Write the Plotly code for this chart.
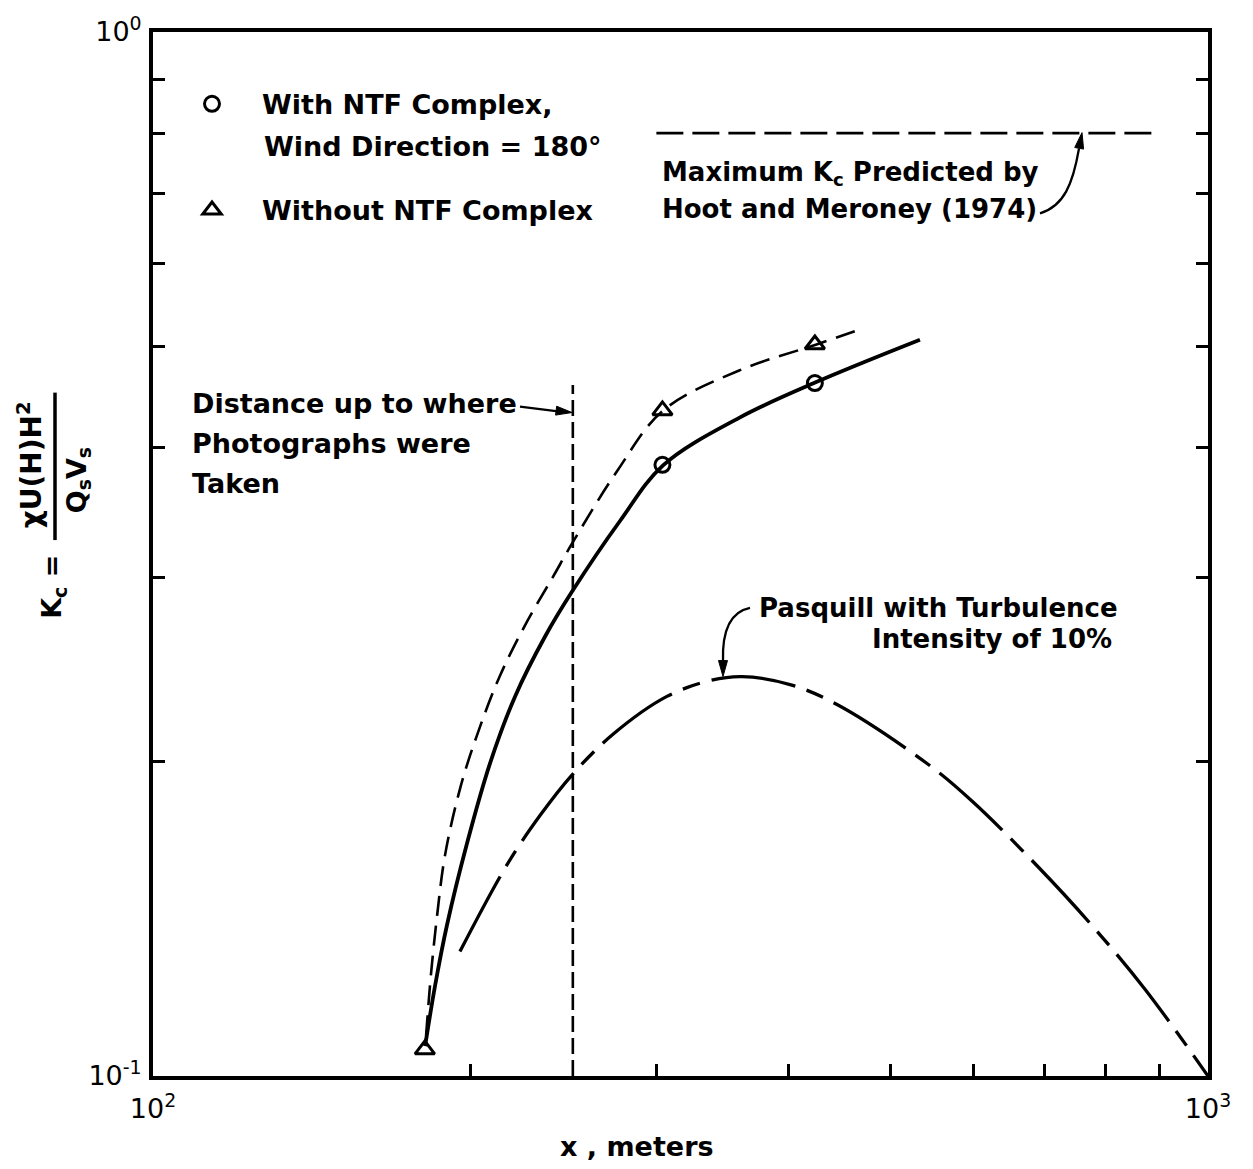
import math
import plotly.graph_objects as go

# ---- data -------------------------------------------------------------
# measured concentration coefficients
with_ntf_x = [304, 424]
with_ntf_y = [0.385, 0.461]
without_ntf_x = [181, 304, 424]
without_ntf_y = [0.106, 0.434, 0.502]

# faired curve through the "with NTF complex" measurements
with_curve_x = [181.1, 185.1, 189.9, 198.4, 208.7, 220.4, 235.3, 249.5, 277.1, 304.4, 359.4, 424.2, 533.3]
with_curve_y = [0.1068, 0.1221, 0.1393, 0.1669, 0.1994, 0.2310, 0.2636, 0.2909, 0.3401, 0.3845, 0.4270, 0.4615, 0.5072]

# faired curve through the "without NTF complex" measurements
without_curve_x = [181.5, 183.4, 185.9, 189.1, 195.4, 202.8, 213.3, 226.2, 239.4, 250.0, 275.5, 304.4, 359.4, 424.2, 469.9]
without_curve_y = [0.1094, 0.1249, 0.1424, 0.1625, 0.1883, 0.2120, 0.2419, 0.2724, 0.3007, 0.3246, 0.3800, 0.4339, 0.4740, 0.5015, 0.5196]

# Pasquill prediction, turbulence intensity 10 %
pasquill_x = [195.4, 216.5, 232.7, 249.5, 272.9, 307.0, 337.3, 361.6, 401.6, 445.0, 542.8, 598.8, 688.6, 774.7, 871.5, 1000]
pasquill_y = [0.1316, 0.1593, 0.1776, 0.1942, 0.2125, 0.2310, 0.2392, 0.2413, 0.2371, 0.2269, 0.1989, 0.1830, 0.1590, 0.1397, 0.1211, 0.1]

# limit of the photographic record
photo_x = [250, 250]
photo_y = [0.1, 0.459]

# maximum K_c after Hoot and Meroney (1974)
hoot_x = [300, 895]
hoot_y = [0.8, 0.8]

x_tickvals = [100, 200, 300, 400, 500, 600, 700, 800, 900, 1000]
x_ticktext = ["10<sup>2</sup>", "", "", "", "", "", "", "", "", "10<sup>3</sup>"]
y_tickvals = [0.1, 0.2, 0.3, 0.4, 0.5, 0.6, 0.7, 0.8, 0.9, 1.0]
y_ticktext = ["10<sup>-1</sup>", "", "", "", "", "", "", "", "", "10<sup>0</sup>"]

# ---- layout geometry ----------------------------------------------------
W, H = 1253, 1169
ML, MR, MT, MB = 153, 45, 28, 93
PW, PH = W - ML - MR, H - MT - MB


def paper_xy(px, py):
    """Figure pixel position -> paper coordinates."""
    return (px - ML) / PW, (H - MB - py) / PH


FONT = "DejaVu Sans"
BLACK = "black"
TXT = 27

fig = go.Figure()

fig.add_trace(go.Scatter(x=with_curve_x, y=with_curve_y, mode="lines",
                         line=dict(color=BLACK, width=3.8, shape="spline"),
                         showlegend=False, hoverinfo="skip"))
fig.add_trace(go.Scatter(x=without_curve_x, y=without_curve_y, mode="lines",
                         line=dict(color=BLACK, width=2.6, shape="spline", dash="20px,10px"),
                         showlegend=False, hoverinfo="skip"))
fig.add_trace(go.Scatter(x=pasquill_x, y=pasquill_y, mode="lines",
                         line=dict(color=BLACK, width=3.3, shape="spline",
                                   dash="85px,12px,18px,12px"),
                         showlegend=False, hoverinfo="skip"))
fig.add_trace(go.Scatter(x=photo_x, y=photo_y, mode="lines",
                         line=dict(color=BLACK, width=2.6, dash="16px,6px"),
                         showlegend=False, hoverinfo="skip"))
fig.add_trace(go.Scatter(x=hoot_x, y=hoot_y, mode="lines",
                         line=dict(color=BLACK, width=2.8, dash="27px,9px"),
                         showlegend=False, hoverinfo="skip"))

fig.add_trace(go.Scatter(x=with_ntf_x, y=with_ntf_y, mode="markers",
                         name="With NTF Complex,",
                         legendgroup="a",
                         marker=dict(symbol="circle-open", size=15, color=BLACK,
                                     line=dict(width=3, color=BLACK)),
                         cliponaxis=False))
fig.add_trace(go.Scatter(x=without_ntf_x, y=without_ntf_y, mode="markers",
                         name="Without NTF Complex",
                         legendgroup="b",
                         marker=dict(symbol="triangle-up-open", size=17, color=BLACK,
                                     line=dict(width=3, color=BLACK)),
                         cliponaxis=False))

annotations = []


def label(text, px, py, anchor="left", size=TXT, weight="bold", angle=0):
    x, y = paper_xy(px, py)
    annotations.append(dict(text=text, x=x, y=y, xref="paper", yref="paper",
                            xanchor=anchor, yanchor="middle", showarrow=False,
                            textangle=angle,
                            font=dict(family=FONT, size=size, color=BLACK, weight=weight)))


label("Wind Direction = 180°", 262, 143)
label("Maximum K<sub>c</sub> Predicted by", 660, 170, size=26)
label("Hoot and Meroney (1974)", 660, 206, size=26)
label("Distance up to where", 190, 401)
label("Photographs were", 190, 441)
label("Taken", 190, 481)
label("Pasquill with Turbulence", 757, 606, size=26)
label("Intensity of 10%", 870, 637, size=26)
label("x , meters", 637, 1147, anchor="center", size=TXT)

# rotated y-axis title: K_c = chi U(H) H^2 / (Q_s V_s)
label("K<sub>c</sub> =", 54, 585, anchor="center", size=27, angle=-90)
label("χU(H)H<sup>2</sup>", 30, 463, anchor="center", size=28, angle=-90)
label("Q<sub>s</sub>V<sub>s</sub>", 78, 478, anchor="center", size=27, angle=-90)

shapes = []


def stroke(path):
    shapes.append(dict(type="path", path=path, xref="paper", yref="paper",
                       line=dict(color=BLACK, width=2.3)))


def curve(p0, c1, c2, p1):
    pts = [paper_xy(*p) for p in (p0, c1, c2, p1)]
    stroke("M {} {} C {} {}, {} {}, {} {}".format(*[v for p in pts for v in p]))


def straight(p0, p1):
    pts = [paper_xy(*p) for p in (p0, p1)]
    stroke("M {} {} L {} {}".format(*[v for p in pts for v in p]))


def arrowhead(tip, direction, length=16, width=9):
    dx, dy = direction
    n = math.hypot(dx, dy)
    dx, dy = dx / n, dy / n
    bx, by = tip[0] - length * dx, tip[1] - length * dy
    p1 = (bx - dy * width / 2, by + dx * width / 2)
    p2 = (bx + dy * width / 2, by - dx * width / 2)
    pts = [paper_xy(*p) for p in (tip, p1, p2)]
    shapes.append(dict(type="path", xref="paper", yref="paper",
                       path="M {} {} L {} {} L {} {} Z".format(*[v for p in pts for v in p]),
                       fillcolor=BLACK, line=dict(color=BLACK, width=1)))


# pointer to the photographic limit
straight((520, 404), (560, 409))
arrowhead((572, 410), (1, 0.12))
# pointer to the Pasquill curve
curve((750, 606), (730, 610), (722, 630), (723, 660))
arrowhead((723, 675), (0, 1))
# pointer to the Hoot and Meroney maximum
curve((1040, 210), (1064, 203), (1073, 180), (1079, 145))
arrowhead((1082, 129), (0.18, -1))

# fraction bar of the y-axis title
bx, by0 = paper_xy(55, 390)
_, by1 = paper_xy(55, 538)
shapes.append(dict(type="line", x0=bx, x1=bx, y0=by0, y1=by1, xref="paper", yref="paper",
                   line=dict(color=BLACK, width=3.5)))

lx, ly = paper_xy(162, 76)

fig.update_layout(
    width=W, height=H,
    margin=dict(l=ML, r=MR, t=MT, b=MB),
    paper_bgcolor="white", plot_bgcolor="white",
    font=dict(family=FONT, color=BLACK),
    annotations=annotations, shapes=shapes,
    showlegend=True,
    legend=dict(x=lx, y=ly, xanchor="left", yanchor="top",
                bgcolor="rgba(0,0,0,0)", valign="middle", tracegroupgap=68,
                itemwidth=90,
                font=dict(family=FONT, size=TXT, color=BLACK, weight="bold")),
    xaxis=dict(type="log", range=[2, 3], tickvals=x_tickvals, ticktext=x_ticktext,
               ticks="inside", ticklen=12, tickwidth=3, tickcolor=BLACK,
               showline=True, linewidth=4, linecolor=BLACK, mirror=True,
               showgrid=False, zeroline=False, ticklabelstandoff=6,
               tickfont=dict(family=FONT, size=27, color=BLACK)),
    yaxis=dict(type="log", range=[-1, 0], tickvals=y_tickvals, ticktext=y_ticktext,
               ticks="inside", ticklen=12, tickwidth=3, tickcolor=BLACK,
               showline=True, linewidth=4, linecolor=BLACK, mirror="allticks",
               showgrid=False, zeroline=False, ticklabelstandoff=2,
               tickfont=dict(family=FONT, size=27, color=BLACK)),
)

fig.write_html("out.html")
